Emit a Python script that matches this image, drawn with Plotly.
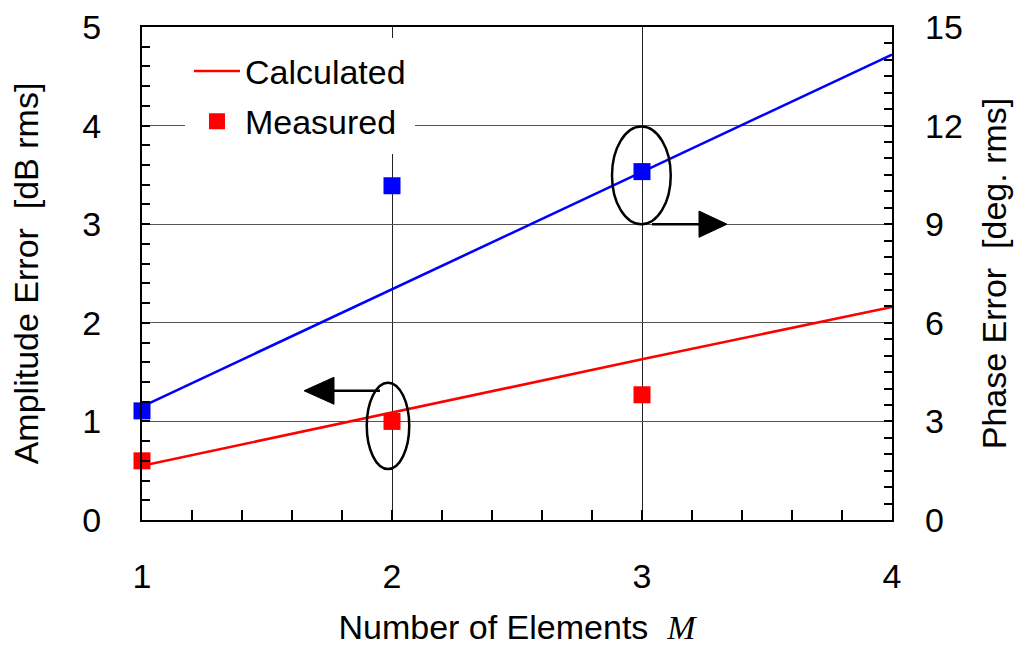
import plotly.graph_objects as go

# Number of array elements
m_calc = [1, 2, 3, 4]
m_meas = [1, 2, 3]

# Calculated errors (straight lines)
amp_calc = [0.55, 1.09, 1.63, 2.16]        # dB rms
phase_calc = [3.45, 7.02, 10.59, 14.16]    # deg. rms

# Measured errors
amp_meas = [0.60, 1.00, 1.27]              # dB rms
phase_meas = [3.32, 10.17, 10.60]          # deg. rms

x_ticks = [1, 2, 3, 4]
amp_ticks = [0, 1, 2, 3, 4, 5]
phase_ticks = [0, 3, 6, 9, 12, 15]

RED = "#ff0000"
BLUE = "#0000ff"
FONT = "Liberation Sans, Arial, sans-serif"
FS = 34

fig = go.Figure()

fig.add_trace(go.Scatter(x=m_calc, y=amp_calc, mode="lines", name="Calculated",
                         line=dict(color=RED, width=2.6), legendgroup="c"))
fig.add_trace(go.Scatter(x=m_meas, y=amp_meas, mode="markers", name="Measured",
                         marker=dict(color=RED, symbol="square", size=17),
                         cliponaxis=False, legendgroup="m"))
fig.add_trace(go.Scatter(x=m_calc, y=phase_calc, mode="lines", yaxis="y2", showlegend=False,
                         line=dict(color=BLUE, width=2.6)))
fig.add_trace(go.Scatter(x=m_meas, y=phase_meas, mode="markers", yaxis="y2", showlegend=False,
                         marker=dict(color=BLUE, symbol="square", size=17), cliponaxis=False))

shapes = []
# ellipse grouping the amplitude data, with arrow pointing to the left axis
shapes.append(dict(type="circle", xref="x", yref="y", x0=1.899, x1=2.069, y0=0.517, y1=1.393,
                   line=dict(color="black", width=2.5)))
shapes.append(dict(type="line", xref="x", yref="y", x0=1.952, x1=1.76, y0=1.311, y1=1.311,
                   line=dict(color="black", width=2.5)))
shapes.append(dict(type="path", xref="x", yref="y",
                   path="M 1.648 1.311 L 1.768 1.448 L 1.768 1.174 Z",
                   fillcolor="black", line=dict(color="black", width=1)))
# ellipse grouping the phase data, with arrow pointing to the right axis
shapes.append(dict(type="circle", xref="x", yref="y2", x0=2.88, x1=3.115, y0=9.0, y1=11.97,
                   line=dict(color="black", width=2.5)))
shapes.append(dict(type="line", xref="x", yref="y2", x0=3.04, x1=3.235, y0=9.0, y1=9.0,
                   line=dict(color="black", width=2.5)))
shapes.append(dict(type="path", xref="x", yref="y2",
                   path="M 3.34 9.0 L 3.228 9.4 L 3.228 8.6 Z",
                   fillcolor="black", line=dict(color="black", width=1)))

fig.update_layout(
    width=1015, height=646,
    margin=dict(l=142, r=123, t=27, b=126),
    paper_bgcolor="white", plot_bgcolor="white",
    font=dict(family=FONT, size=FS, color="black"),
    showlegend=True,
    legend=dict(x=0.0573, y=0.977, xanchor="left", yanchor="top",
                bgcolor="white", bordercolor="white", borderwidth=4, font=dict(size=FS),
                tracegroupgap=3, itemwidth=46),
    shapes=shapes,
    xaxis=dict(range=[1, 4], tickvals=x_ticks, ticktext=[str(v) for v in x_ticks],
               showline=True, linecolor="black", linewidth=2, mirror=True,
               ticks="inside", ticklen=10, tickcolor="black", tickwidth=1.5,
               showgrid=True, gridcolor="#222222", gridwidth=1.2,
               zeroline=False, ticklabelstandoff=25, automargin=False,
               minor=dict(dtick=0.2, ticks="inside", ticklen=10, tickcolor="black",
                          tickwidth=1.5, showgrid=False),
               title=dict(text="Number of Elements\u00a0\u00a0<span style='font-family:Liberation Serif'><i>M</i></span>",
                          font=dict(size=FS), standoff=24)),
    yaxis=dict(range=[0, 5], tickvals=amp_ticks, ticktext=[str(v) for v in amp_ticks],
               showline=True, linecolor="black", linewidth=2, mirror=True,
               ticks="inside", ticklen=8, tickcolor="black", tickwidth=1.5,
               showgrid=True, gridcolor="#555555", gridwidth=1.2,
               zeroline=False, ticklabelstandoff=32, automargin=False,
               minor=dict(dtick=0.2, ticks="inside", ticklen=8, tickcolor="black",
                          tickwidth=1.5, showgrid=False),
               title=dict(text="Amplitude Error\u00a0\u00a0[dB rms]", font=dict(size=FS), standoff=33)),
    yaxis2=dict(range=[0, 15], tickvals=phase_ticks, ticktext=[str(v) for v in phase_ticks],
                overlaying="y", side="right", showline=False,
                ticks="inside", ticklen=8, tickcolor="black", tickwidth=1.5,
                showgrid=False, zeroline=False, ticklabelstandoff=32, automargin=False,
                minor=dict(dtick=0.5, ticks="inside", ticklen=8, tickcolor="black",
                           tickwidth=1.5, showgrid=False),
                title=dict(text="Phase Error\u00a0\u00a0[deg. rms]", font=dict(size=FS), standoff=20)),
)

fig.write_html("out.html")
